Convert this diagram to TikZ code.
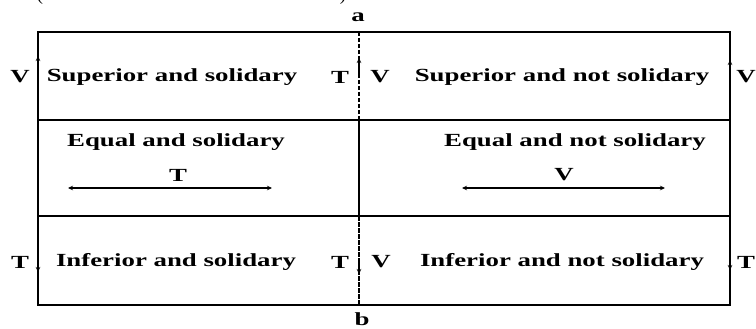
\documentclass[tikz,border=0pt]{standalone}
\usepackage{fontspec}
\usepackage{graphicx}
\setmainfont{Liberation Serif}
\usetikzlibrary{arrows.meta}
\newcommand{\wide}[1]{\scalebox{1.45}[1]{\bfseries #1}}
\tikzset{
  lbl/.style={inner sep=0pt, font=\fontsize{18.5}{21}\selectfont},
  frame/.style={line width=2.6pt},
  divider/.style={line width=2pt},
  dline/.style={line width=2.6pt, dash pattern=on 4.5pt off 1.5pt},
  tip/.style={line width=1.2pt, -{Stealth[length=5pt,width=4.5pt]}},
  harrow/.style={line width=1.2pt, {Stealth[length=5pt,width=4.5pt]}-{Stealth[length=5pt,width=4.5pt]}}
}
\begin{document}
\begin{tikzpicture}[x=1pt,y=-1pt]
\useasboundingbox (0,0) rectangle (756,329);
% cropped remnants at the top
\node[lbl, anchor=base] (lp) at (40,1) {(};
\node[lbl, anchor=base] (rp) at (343,1) {)};
% frame corners
\coordinate (tl) at (38,32);
\coordinate (tr) at (730,32);
\coordinate (bl) at (38,305);
\coordinate (br) at (730,305);
\coordinate (ml1) at (38,120);
\coordinate (mr1) at (730,120);
\coordinate (ml2) at (38,216);
\coordinate (mr2) at (730,216);
\coordinate (ct) at (359,32);
\coordinate (c1) at (359,120);
\coordinate (c2) at (359,216);
\coordinate (cb) at (359,305);
\draw[frame] (tl) rectangle (br);
\draw[divider] (ml1) -- (mr1);
\draw[divider] (ml2) -- (mr2);
\draw[dline] (ct) -- (c1);
\draw[line width=2.6pt] (c1) -- (c2);
\draw[dline] (c2) -- (cb);
% labels a, b
\node[lbl] (a) at (358,17) {\wide{a}};
\node[lbl] (b) at (362,319) {\wide{b}};
% top row
\node[lbl] (s1) at (172,77) {\wide{Superior and solidary}};
\node[lbl] (s2) at (562,77) {\wide{Superior and not solidary}};
\node[lbl] (v1) at (20,77) {\wide{V}};
\node[lbl] (t1) at (340,77) {\wide{T}};
\node[lbl] (v2) at (380,77) {\wide{V}};
\node[lbl] (v3) at (746,77) {\wide{V}};
\coordinate (a1s) at (38,72); \coordinate (a1e) at (38,56);
\coordinate (a2s) at (359,74); \coordinate (a2e) at (359,58);
\coordinate (a3s) at (730,76); \coordinate (a3e) at (730,60);
\draw[tip] (a1s) -- (a1e);
\draw[tip] (a2s) -- (a2e);
\draw[tip] (a3s) -- (a3e);
% middle row
\node[lbl] (e1) at (176,142) {\wide{Equal and solidary}};
\node[lbl] (e2) at (575,142) {\wide{Equal and not solidary}};
\node[lbl] (tm) at (178,175) {\wide{T}};
\node[lbl] (vm) at (564,175) {\wide{V}};
\coordinate (h1l) at (68,188); \coordinate (h1r) at (272,188);
\coordinate (h2l) at (462,188); \coordinate (h2r) at (665,188);
\draw[harrow] (h1l) -- (h1r);
\draw[harrow] (h2l) -- (h2r);
% bottom row
\node[lbl] (i1) at (176,262) {\wide{Inferior and solidary}};
\node[lbl] (i2) at (562,262) {\wide{Inferior and not solidary}};
\node[lbl] (t2) at (20,262) {\wide{T}};
\node[lbl] (t3) at (340,262) {\wide{T}};
\node[lbl] (v4) at (381,262) {\wide{V}};
\node[lbl] (t4) at (746,262) {\wide{T}};
\coordinate (b1s) at (38,256); \coordinate (b1e) at (38,272);
\coordinate (b2s) at (359,258); \coordinate (b2e) at (359,274);
\coordinate (b3s) at (730,254); \coordinate (b3e) at (730,270);
\draw[tip] (b1s) -- (b1e);
\draw[tip] (b2s) -- (b2e);
\draw[tip] (b3s) -- (b3e);
\end{tikzpicture}
\end{document}
